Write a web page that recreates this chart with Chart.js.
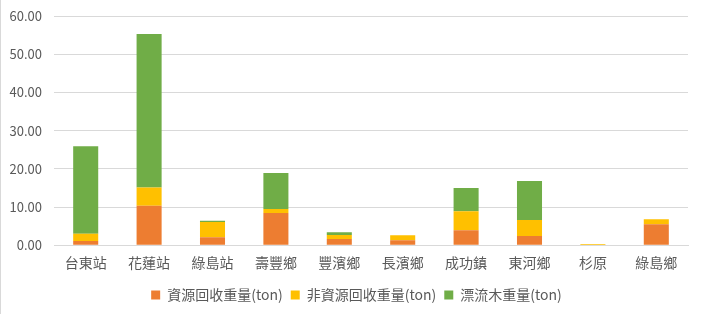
<!DOCTYPE html>
<html>
<head>
<meta charset="utf-8">
<script src="https://cdn.jsdelivr.net/npm/chart.js@4/dist/chart.umd.min.js"></script>
<style>
html,body{margin:0;padding:0;background:#fff;}
#wrap{position:relative;width:702px;height:314px;box-sizing:border-box;border-left:1px solid #d9d9d9;}
canvas{display:block;}
</style>
</head>
<body>
<div id="wrap"><canvas id="c" width="701" height="314"></canvas></div>
<script>
const categories = ["台東站","花蓮站","綠島站","壽豐鄉","豐濱鄉","長濱鄉","成功鎮","東河鄉","杉原","綠島鄉"];
const recycled   = [1.1, 10.3, 2.1, 8.4, 1.6, 1.3, 3.9, 2.4, 0.1, 5.5];
const nonRecycled= [1.9, 4.8, 3.95, 1.1, 1.1, 1.3, 5.0, 4.2, 0.2, 1.3];
const driftwood  = [22.9, 40.2, 0.35, 9.4, 0.7, 0, 6.1, 10.2, 0, 0];
const seriesNames = ["資源回收重量(ton)","非資源回收重量(ton)","漂流木重量(ton)"];
const yTicks = [0,10,20,30,40,50,60];

const FONT = '"Noto Sans CJK TC","Noto Sans",sans-serif';
Chart.defaults.font.family = FONT;
Chart.defaults.color = '#595959';

const shiftLegend = {
  id: 'shiftLegend',
  afterLayout(chart) {
    if (chart.legend) { chart.legend.left += 12; chart.legend.right += 12; }
  }
};

new Chart(document.getElementById('c'), {
  type: 'bar',
  data: {
    labels: categories,
    datasets: [
      {label: seriesNames[0], data: recycled, backgroundColor: '#ED7D31'},
      {label: seriesNames[1], data: nonRecycled, backgroundColor: '#FFC000'},
      {label: seriesNames[2], data: driftwood, backgroundColor: '#70AD47'}
    ]
  },
  plugins: [shiftLegend],
  options: {
    responsive: false,
    animation: false,
    layout: {padding: {left: 0, right: 14, top: 16, bottom: 2}},
    datasets: {bar: {barPercentage: 0.79, categoryPercentage: 0.5}},
    scales: {
      x: {
        stacked: true,
        grid: {display: false, drawTicks: false},
        border: {display: true, color: '#d9d9d9'},
        ticks: {color: '#595959', font: {size: 14}, padding: 9}
      },
      y: {
        stacked: true,
        min: 0, max: 60,
        afterBuildTicks: (s) => { s.ticks = yTicks.map(v => ({value: v})); },
        afterFit: (s) => { s.width = 53; s.paddingTop = 0; s.paddingBottom = 0; },
        grid: {color: '#d9d9d9', drawTicks: false},
        border: {display: false},
        ticks: {color: '#595959', font: {size: 13}, padding: 12,
                callback: (v) => Number(v).toFixed(2)}
      }
    },
    plugins: {
      legend: {
        position: 'bottom',
        labels: {boxWidth: 9, boxHeight: 9, color: '#595959', font: {size: 14}, padding: 8}
      },
      tooltip: {enabled: false}
    }
  }
});
</script>
</body>
</html>
